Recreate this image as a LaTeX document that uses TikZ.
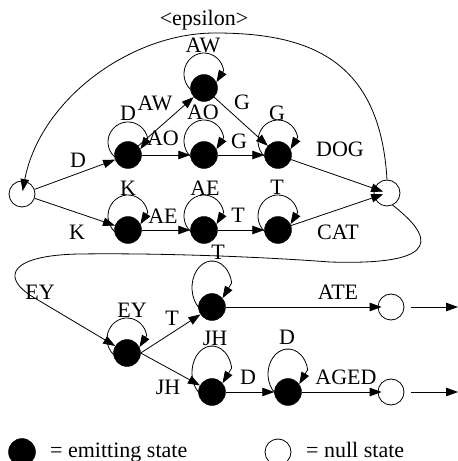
\documentclass[tikz,border=0pt]{standalone}
\usepackage{fontspec}
\setmainfont{Liberation Serif}
\usetikzlibrary{arrows.meta}
\tikzset{
  emit/.style={circle,fill=black,draw=black,minimum size=27pt,inner sep=0pt},
  nullst/.style={circle,draw=black,fill=white,line width=0.8pt,minimum size=26pt,inner sep=0pt},
  lab/.style={inner sep=0pt,font=\fontsize{22}{26}\selectfont},
  arr/.style={-{Triangle[length=12pt,width=8.5pt]},line width=0.8pt},
}
% #1 node, #2 vertical radius, #3 centre height, #4 anchor hit by the tip
\newcommand\mkloop[4]{\draw[arr] ([shift={(-12.86,{#3-0.766*#2})}]#1.center) arc[start angle=230,end angle=10,x radius=20pt,y radius=#2pt] -- (#1.#4);}
\begin{document}
\begin{tikzpicture}[x=1pt,y=1pt]
\useasboundingbox (0,0) rectangle (458,461);
% states
\node[nullst] (S) at (22,267) {};
\node[emit] (Dn) at (128,306) {};
\node[emit] (AWn) at (204,373) {};
\node[emit] (AOn) at (204,306) {};
\node[emit] (Gn) at (278,306) {};
\node[nullst] (E1) at (387,268) {};
\node[emit] (Kn) at (128,231) {};
\node[emit] (AEn) at (204,231) {};
\node[emit] (Tn) at (278,231) {};
\node[emit] (EYn) at (127,108) {};
\node[emit] (T2) at (212,154) {};
\node[emit] (JHn) at (212,69) {};
\node[emit] (D2) at (288,69) {};
\node[nullst] (ATE) at (391,154) {};
\node[nullst] (AGED) at (391,69) {};
\coordinate (o1) at (458,154);
\coordinate (o2) at (458,69);
% self loops
\mkloop{Dn}{20}{13}{25}
\mkloop{AWn}{21}{14}{25}
\mkloop{AOn}{21}{14}{25}
\mkloop{Gn}{21}{14}{25}
\mkloop{Kn}{21}{14}{25}
\mkloop{AEn}{21}{14}{25}
\mkloop{Tn}{21}{14}{25}
\mkloop{EYn}{21}{14}{25}
\mkloop{T2}{26.6}{19.4}{40}
\mkloop{JHn}{26.6}{19.4}{40}
\mkloop{D2}{25}{18}{35}
% edges
\draw[arr] (S) -- (Dn);
\draw[arr] (S) -- (Kn);
\draw[arr] (Dn) -- (AWn);
\draw[arr] (Dn) -- (AOn);
\draw[arr] (AWn) -- (Gn);
\draw[arr] (AOn) -- (Gn);
\draw[arr,shorten >=4pt] (Gn) -- (E1.center);
\draw[arr] (Kn) -- (AEn);
\draw[arr] (AEn) -- (Tn);
\draw[arr,shorten >=4pt] (Tn) -- (E1.center);
\draw[arr,shorten >=3pt] (E1.north) .. controls (380,401) and (310,428) .. (215,428)
   .. controls (130,428) and (40,361) .. (S.center);
\draw[arr] (E1.-65) .. controls (445,215) and (425,196) .. (330,199)
   .. controls (250,205) and (150,208) .. (80,207)
   .. controls (10,206) and (0,184) .. (33,164) -- (EYn);
\draw[arr] (EYn.east) -- (T2);
\draw[arr] (EYn.east) -- (JHn);
\draw[arr,shorten >=-4pt] (T2) -- (ATE);
\draw[arr] (JHn) -- (D2);
\draw[arr,shorten >=-4pt] (D2) -- (AGED);
\draw[arr,shorten <=7pt] (ATE) -- (o1);
\draw[arr,shorten <=7pt] (AGED) -- (o2);
% labels
\node[lab,anchor=base] (leps) at (204,435) {<epsilon>};
\node[lab] (l1) at (203,416) {AW};
\node[lab] (l2) at (155,358) {AW};
\node[lab] (l3) at (128,348) {D};
\node[lab] (l4) at (203,349) {AO};
\node[lab] (l5) at (163,323) {AO};
\node[lab] (l6) at (78,301) {D};
\node[lab] (l7) at (242,359) {G};
\node[lab] (l8) at (277,348) {G};
\node[lab] (l9) at (239,320) {G};
\node[lab] (l10) at (340,312) {DOG};
\node[lab] (l11) at (128,273) {K};
\node[lab] (l12) at (205,273) {AE};
\node[lab] (l13) at (163,245) {AE};
\node[lab] (l14) at (77,229) {K};
\node[lab] (l15) at (277,274) {T};
\node[lab] (l16) at (238,246) {T};
\node[lab] (l17) at (338,229) {CAT};
\node[lab] (l18) at (40,169) {EY};
\node[lab] (l19) at (132,151) {EY};
\node[lab] (l20) at (172,143) {T};
\node[lab] (l21) at (218,209) {T};
\node[lab] (l22) at (215,123) {JH};
\node[lab] (l23) at (168,74) {JH};
\node[lab] (l24) at (248,84) {D};
\node[lab] (l25) at (287,124) {D};
\node[lab] (l26) at (338,169) {ATE};
\node[lab] (l27) at (346,84) {AGED};
% legend
\node[emit] (k1) at (22,9) {};
\node[lab,anchor=base west] (k1t) at (50,4) {= emitting state};
\node[nullst] (k2) at (278,9) {};
\node[lab,anchor=base west] (k2t) at (306,4) {= null state};
\end{tikzpicture}
\end{document}
